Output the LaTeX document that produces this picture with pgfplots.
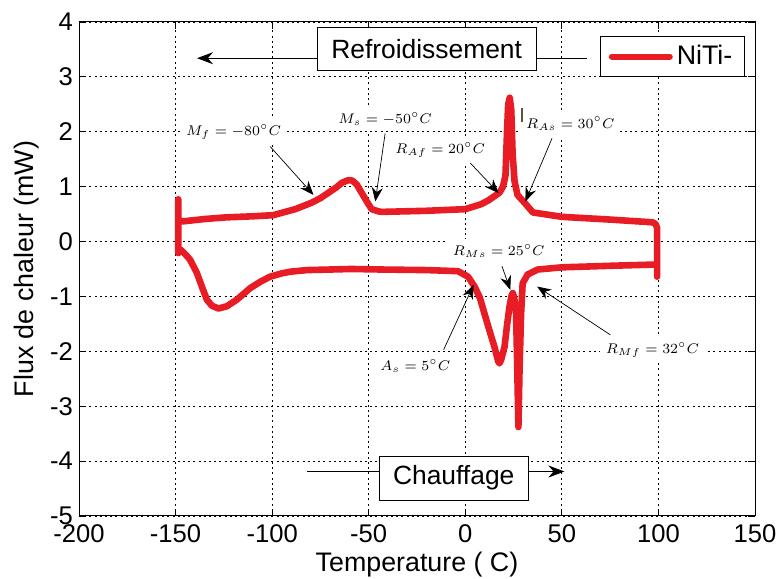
\documentclass[border=0pt]{standalone}
\usepackage[no-math]{fontspec}
\setmainfont{Liberation Sans}
\usepackage{pgfplots}
\pgfplotsset{compat=1.18}
\usetikzlibrary{arrows.meta}
\definecolor{nitired}{RGB}{232,28,36}
\newcommand{\annfont}{\fontsize{6.6}{8}\selectfont}
\tikzset{annarrow/.style={-{Stealth[length=7pt,width=5.5pt]}, line width=0.35pt, black},
  ann/.style={font=\annfont, fill=white, inner xsep=3pt, inner ysep=3pt}}
\begin{document}
\begin{tikzpicture}
\begin{axis}[name=ax, scale only axis, width=338pt, height=247pt,
  xmin=-200, xmax=150, ymin=-5, ymax=4,
  xtick={-200,-150,...,150}, ytick={-5,-4,...,4},
  grid=major,
  major grid style={black, line width=0.4pt, dash pattern=on 1pt off 1.6pt},
  tick align=inside, major tick length=3.5pt,
  tick style={black, line width=0.4pt},
  axis line style={black, line width=0.5pt},
  /pgf/number format/assume math mode=true,
  ticklabel style={font=\fontsize{12.8}{14}\selectfont},
  xticklabel style={yshift=-0.8pt},
  yticklabel style={xshift=0.5pt},
  xlabel={Temperature ( C)}, ylabel={Flux de chaleur (mW)},
  label style={font=\fontsize{13.4}{15}\selectfont},
  xlabel style={at={(axis description cs:0.5,-0.099)}, anchor=center},
  ylabel style={at={(axis description cs:-0.077,0.5)}, anchor=center},
  legend style={at={(0.985,0.972)}, anchor=north east, draw=black, fill=white,
    font=\fontsize{13.4}{15}\selectfont, inner xsep=4pt, inner ysep=2.5pt, line width=0.5pt},
  legend cell align=left,
  legend image code/.code={\draw[nitired, line width=3pt] (0pt,0pt) -- (29pt,0pt);},
]
\addplot[nitired, line width=3.3pt, line join=round, line cap=round] coordinates {
(-148.6,0.77) (-148.6,-0.21) (-147.3,-0.15) (-144.5,-0.25) (-142.5,-0.33)
(-139,-0.57) (-136.4,-0.82) (-133.8,-1.06) (-131.2,-1.17) (-127.8,-1.22)
(-123.5,-1.18) (-118.3,-1.06) (-111.4,-0.85) (-106,-0.73) (-101,-0.64)
(-95,-0.58) (-90.7,-0.55) (-82,-0.52) (-70,-0.51) (-59,-0.50) (-43.3,-0.51)
(-20,-0.52) (-3.8,-0.54) (1.4,-0.64) (4.8,-0.82) (7.5,-1.02) (9.9,-1.31)
(12.5,-1.62) (15.1,-1.92) (17.0,-2.18) (17.7,-2.22) (18.6,-2.15) (20.3,-1.92)
(21.7,-1.50) (22.9,-1.18) (24.0,-0.98) (24.6,-0.94) (25.3,-1.02) (26.3,-1.31)
(26.9,-2.3) (27.5,-3.38) (28.1,-2.3) (28.9,-1.31) (29.7,-0.76) (32.3,-0.60)
(37.5,-0.51) (50,-0.47) (77,-0.44) (97.6,-0.42) (99.3,-0.42) (99.3,-0.64)
(99.3,0.25) (98.5,0.32) (97,0.35) (75,0.40) (50,0.45) (35,0.53) (30.6,0.71)
(27,0.85) (25.5,1.1) (24.5,1.6) (23.8,2.4) (23.0,2.62) (22.2,2.5) (21.6,2.0)
(20.8,1.2) (19.5,1.0) (17.7,0.89) (12,0.75) (8.2,0.68) (0,0.59) (-20,0.56)
(-43.3,0.54) (-45,0.55) (-48.5,0.59) (-50.5,0.70) (-52.7,0.83) (-56.2,1.04)
(-58.5,1.11) (-60.5,1.12) (-63.9,1.07) (-67,0.98) (-70.8,0.89) (-75,0.79)
(-79.4,0.71) (-88,0.59) (-99.5,0.48) (-110,0.46) (-124,0.44) (-135,0.41)
(-145.5,0.37) (-148.6,0.37)
};
\addlegendentry{NiTi-}

% Refroidissement box and arrows
\draw[black, line width=0.5pt, fill=white] (axis cs:-76.7,3.12) rectangle (axis cs:36.8,3.90);
\node[font=\fontsize{13.2}{15}\selectfont] at (axis cs:-20,3.51) {Refroidissement};
\draw[-{Stealth[length=8pt,width=6pt]}, line width=0.5pt] (axis cs:-76.7,3.34) -- (axis cs:-138.9,3.34);
\draw[line width=0.5pt] (axis cs:36.8,3.34) -- (axis cs:63.2,3.34);

% Chauffage box and arrows
\draw[black, line width=0.5pt, fill=white] (axis cs:-44.6,-4.71) rectangle (axis cs:32.6,-3.92);
\node[font=\fontsize{13.2}{15}\selectfont] at (axis cs:-6,-4.31) {Chauffage};
\draw[line width=0.5pt] (axis cs:-81.9,-4.19) -- (axis cs:-44.6,-4.19);
\draw[-{Stealth[length=8pt,width=6pt]}, line width=0.5pt] (axis cs:32.6,-4.19) -- (axis cs:51.3,-4.19);

% annotations
\node[ann] at (axis cs:-120,2.0) {$M_f = -80^\circ C$};
\draw[annarrow] (axis cs:-101,1.73) -- (axis cs:-78.6,0.85);
\node[ann] at (axis cs:-41.5,2.24) {$M_s = -50^\circ C$};
\draw[annarrow] (axis cs:-41.5,1.97) -- (axis cs:-46.6,0.73);
\node[ann] at (axis cs:-13,1.67) {$R_{Af} = 20^\circ C$};
\draw[annarrow] (axis cs:2.6,1.43) -- (axis cs:17.3,0.88);
\node[ann] at (axis cs:54.4,2.15) {$R_{As} = 30^\circ C$};
\draw[annarrow] (axis cs:44.9,1.88) -- (axis cs:31.1,0.73);
\draw[line width=0.6pt, black!75!yellow] (axis cs:29.4,2.43) -- (axis cs:29.4,2.18);
\node[ann] at (axis cs:17.3,-0.18) {$R_{Ms} = 25^\circ C$};
\draw[annarrow] (axis cs:19,-0.45) -- (axis cs:23.3,-0.88);
\node[ann] at (axis cs:96.9,-1.97) {$R_{Mf} = 32^\circ C$};
\draw[annarrow] (axis cs:75.1,-1.70) -- (axis cs:37.2,-0.82);
\node[ann] at (axis cs:-25.9,-2.27) {$A_s = 5^\circ C$};
\draw[annarrow] (axis cs:-11.2,-1.97) -- (axis cs:4.3,-0.79);
\end{axis}
\pgfresetboundingbox
\path ([shift={(-39.5pt,-31.5pt)}]ax.south west) rectangle ([shift={(12pt,11pt)}]ax.north east);
\end{tikzpicture}
\end{document}
